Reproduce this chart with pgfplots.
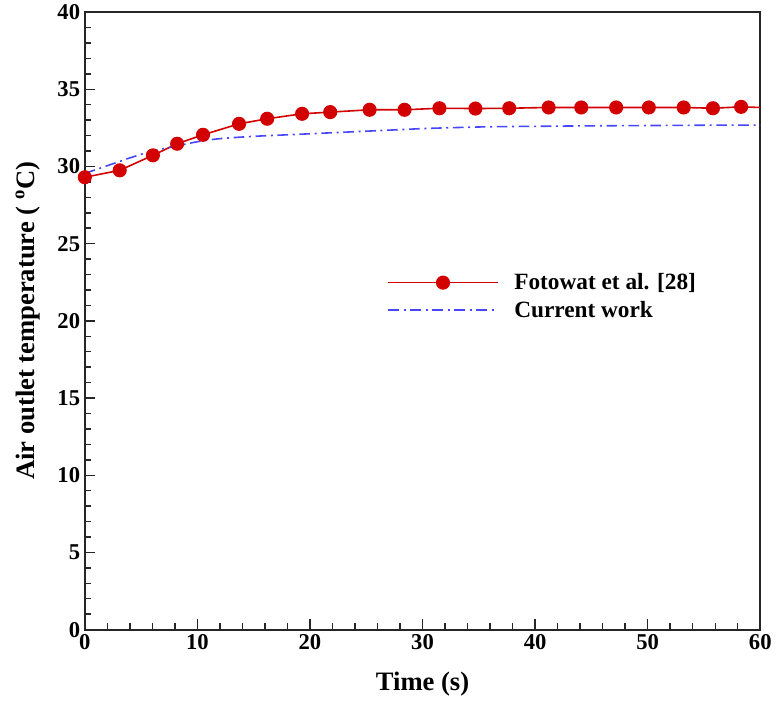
\documentclass[border=0pt]{standalone}
\usepackage{pgfplots}
\pgfplotsset{compat=1.18}
\usepackage{fontspec}
\setmainfont{Liberation Serif}
\definecolor{myred}{RGB}{210,0,0}
\definecolor{myblue}{RGB}{70,70,250}
\begin{document}
\begin{tikzpicture}
\begin{axis}[
  scale only axis,
  width=507.75pt, height=464.25pt,
  xmin=0, xmax=60, ymin=0, ymax=40,
  xtick={0,10,...,60}, ytick={0,5,...,40},
  minor x tick num=4, minor y tick num=4,
  xtick pos=left, ytick pos=left,
  tick align=inside,
  major tick length=8pt, minor tick length=5pt,
  axis line style={line width=1.3pt, black!85},
  every tick/.style={line width=1.1pt, black!85},
  /pgf/number format/assume math mode=true,
  tick label style={font=\bfseries\fontsize{17}{17}\selectfont},
  label style={font=\bfseries\fontsize{20}{20}\selectfont},
  xlabel={Time (s)},
  ylabel={Air outlet temperature ( \textsuperscript{o}C)},
  xlabel style={at={(axis description cs:0.5,-0.0885)}, anchor=center},
  ylabel style={at={(axis description cs:-0.0842,0.5)}, anchor=center},
  legend style={draw=none, fill=none, at={(0.448,0.5396)}, anchor=west,
    font=\bfseries\fontsize{17.5}{17.5}\selectfont, inner sep=0pt,
    row sep=3pt, nodes={inner sep=2pt}},
  legend cell align=left,
  legend image code/.code={\draw[#1] (0pt,0pt) -- (82pt,0pt); \draw[#1] plot coordinates {(41pt,0pt)}; \path (92pt,0pt);},
]
\addplot[color=myred, line width=1.2pt, mark=*, mark size=4.7pt, mark options={solid, fill=myred, draw=myred}]
coordinates {
(0,29.3) (3.1,29.75) (6.05,30.72) (8.2,31.47) (10.5,32.05) (13.7,32.76) (16.2,33.09) (19.3,33.41) (21.8,33.52) (25.3,33.67) (28.4,33.67) (31.5,33.77) (34.7,33.75) (37.7,33.77) (41.2,33.82) (44.1,33.82) (47.2,33.82) (50.1,33.82) (53.2,33.82) (55.8,33.77) (58.3,33.86)
};
\addlegendentry{Fotowat et al. [28]}
\addplot[color=myblue, line width=1.2pt, dash pattern=on 8pt off 3.5pt on 1.5pt off 3.5pt, smooth]
coordinates {
(0,29.55) (2,30.05) (4,30.55) (6,31.0) (8,31.3) (10,31.6) (12,31.8) (15,31.95) (18,32.05) (21,32.15) (24,32.25) (27,32.35) (30,32.45) (33,32.52) (36,32.57) (40,32.6) (45,32.63) (50,32.65) (55,32.67) (60,32.68)
};
\addlegendentry{Current work}
\addplot[color=myred, line width=1.2pt, forget plot] coordinates {(58.3,33.86) (60,33.82)};
\end{axis}
\useasboundingbox ([xshift=-63.75pt,yshift=-53.25pt]current axis.south west) rectangle ([xshift=10.5pt,yshift=9pt]current axis.north east);
\end{tikzpicture}
\end{document}
